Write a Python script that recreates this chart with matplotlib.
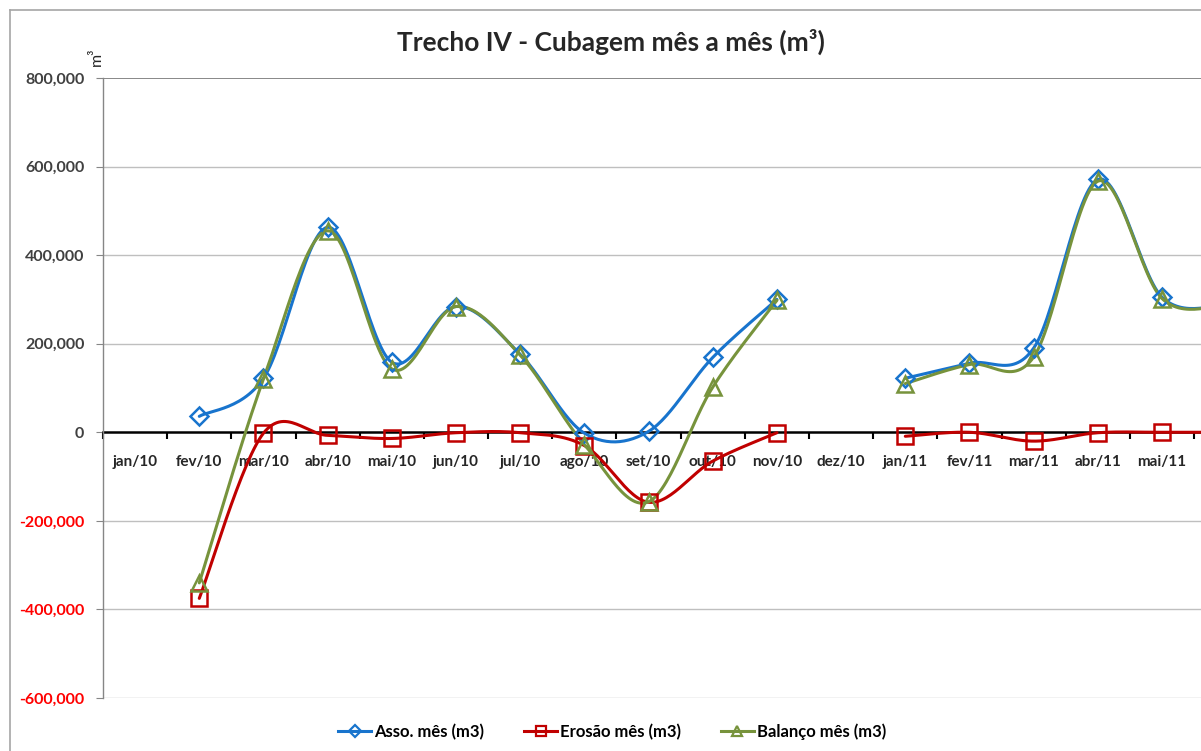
import numpy as np
import matplotlib
matplotlib.use("Agg")
import matplotlib.pyplot as plt
from matplotlib.lines import Line2D

nan = np.nan
months = ["jan/10", "fev/10", "mar/10", "abr/10", "mai/10", "jun/10", "jul/10",
          "ago/10", "set/10", "out/10", "nov/10", "dez/10", "jan/11", "fev/11",
          "mar/11", "abr/11", "mai/11", "jun/11"]
asso = [nan, 36000, 122000, 463000, 158000, 284000, 176000, -2000, 2000,
        169000, 300000, nan, 122000, 156000, 190000, 571000, 305000, 288000]
erosao = [nan, -375000, -2000, -7000, -14000, -1000, -1000, -30000, -158000,
          -65000, -1000, nan, -9000, 0, -20000, -1000, 0, 0]
balanco = [nan, -340000, 120000, 455000, 143000, 284000, 174000, -28000, -157000,
           102000, 298000, nan, 110000, 153000, 170000, 567000, 302000, 288000]
yticks = [-600000, -400000, -200000, 0, 200000, 400000, 600000, 800000]

FONT = "Lato"


def smooth(vals, n=30):
    """Excel-style smoothed line (Bezier with 1/6 neighbour tangents)."""
    y = np.array(vals, dtype=float)
    N = len(y)
    xs, ys = [], []
    ok = ~np.isnan(y)
    for k in range(N - 1):
        if not (ok[k] and ok[k + 1]):
            if xs and not np.isnan(ys[-1]):
                xs.append(nan); ys.append(nan)
            continue
        pprev = y[k - 1] if k - 1 >= 0 and ok[k - 1] else y[k]
        pnext = y[k + 2] if k + 2 < N and ok[k + 2] else y[k + 1]
        xprev = k - 1 if k - 1 >= 0 and ok[k - 1] else k
        xnext = k + 2 if k + 2 < N and ok[k + 2] else k + 1
        c1y = y[k] + (y[k + 1] - pprev) / 6
        c2y = y[k + 1] - (pnext - y[k]) / 6
        c1x = k + (k + 1 - xprev) / 6
        c2x = k + 1 - (xnext - k) / 6
        t = np.linspace(0, 1, n)
        bx = (1 - t) ** 3 * k + 3 * (1 - t) ** 2 * t * c1x + 3 * (1 - t) * t ** 2 * c2x + t ** 3 * (k + 1)
        by = (1 - t) ** 3 * y[k] + 3 * (1 - t) ** 2 * t * c1y + 3 * (1 - t) * t ** 2 * c2y + t ** 3 * y[k + 1]
        xs.extend(bx); ys.extend(by)
    return np.array(xs), np.array(ys)


W, H = 1201, 751
fig = plt.figure(figsize=(W / 100, H / 100), dpi=100)

# outer chart frame (cut at right/bottom)
fig.add_artist(Line2D([10 / W, 10 / W], [0, 1 - 10 / H], color="#A6A6A6", lw=1.2))
fig.add_artist(Line2D([10 / W, 1], [1 - 10 / H, 1 - 10 / H], color="#A6A6A6", lw=1.2))

left = 103 / W
bottom = (H - 698) / H
top = (H - 78) / H
ax = fig.add_axes([left, bottom, 1 - left, top - bottom])

series = [
    (asso, "#1874CD", "D", 9.5, "Asso. mês (m3)"),
    (erosao, "#C00000", "s", 12, "Erosão mês (m3)"),
    (balanco, "#77933C", "^", 12, "Balanço mês (m3)"),
]
handles = []
for vals, col, mk, ms, lab in series:
    sx, sy = smooth(vals)
    ax.plot(sx, sy, color=col, lw=2.2, solid_capstyle="round", zorder=3)
    xi = np.arange(len(vals))
    ax.plot(xi, vals, linestyle="none", marker=mk, markersize=ms,
            markerfacecolor="none", markeredgecolor=col, markeredgewidth=1.8, zorder=4)
    handles.append(Line2D([], [], color=col, lw=2.2, marker=mk, markersize=ms * 0.65,
                          markerfacecolor="none", markeredgecolor=col, markeredgewidth=1.6))

# grid
for v in yticks:
    if v == 0:
        continue
    c = "#7F7F7F" if v == 800000 else "#BFBFBF"
    ax.axhline(v, color=c, lw=1.3 if v == 800000 else 1.0, zorder=1)

for s in ["top", "right"]:
    ax.spines[s].set_visible(False)
ax.spines["left"].set_color("#868686")
ax.spines["left"].set_linewidth(1.0)
ax.spines["bottom"].set_position(("data", 0))
ax.spines["bottom"].set_color("black")
ax.spines["bottom"].set_linewidth(1.8)
ax.spines["bottom"].set_zorder(2)

ax.set_yticks(yticks)
ax.set_yticklabels([f"{v:,.0f}" for v in yticks], fontfamily=FONT, fontweight="bold", fontsize=11.5)
for lbl, v in zip(ax.get_yticklabels(), yticks):
    lbl.set_color("#FF0000" if v < 0 else "#404040")
ax.tick_params(axis="y", direction="out", length=5, color="#868686", pad=8.5)

ax.set_xticks(np.arange(len(months)))
ax.set_xticklabels(months, fontfamily=FONT, fontweight="bold", fontsize=11, color="#262626")
ax.set_xticks(np.arange(len(months)) - 0.5, minor=True)
ax.tick_params(axis="x", which="major", length=0, pad=16)
ax.tick_params(axis="x", which="minor", direction="out", length=5, width=1.5, color="black")

# limits after ticks (set_xticks can expand the view)
x0 = 135
dx = 64.19
ax.set_xlim(-0.5, (W - x0) / dx)
ax.set_ylim(-600000, 800000)

fig.text(611 / W, 1 - 42 / H, "Trecho IV - Cubagem mês a mês (m³)", ha="center", va="center",
         fontfamily=FONT, fontweight="bold", fontsize=19, color="#262626")
fig.text(97 / W, 1 - 57 / H, "m³", ha="center", va="center", rotation=90,
         fontfamily=FONT, fontsize=11.5, color="#262626")

fig.legend(handles, [s[4] for s in series], loc="center", bbox_to_anchor=(612 / W, 1 - 732 / H),
           ncol=3, frameon=False, prop={"family": FONT, "weight": "bold", "size": 12},
           handlelength=2.0, handletextpad=0.15, columnspacing=2.4)

fig.savefig("out.png", dpi=100)
